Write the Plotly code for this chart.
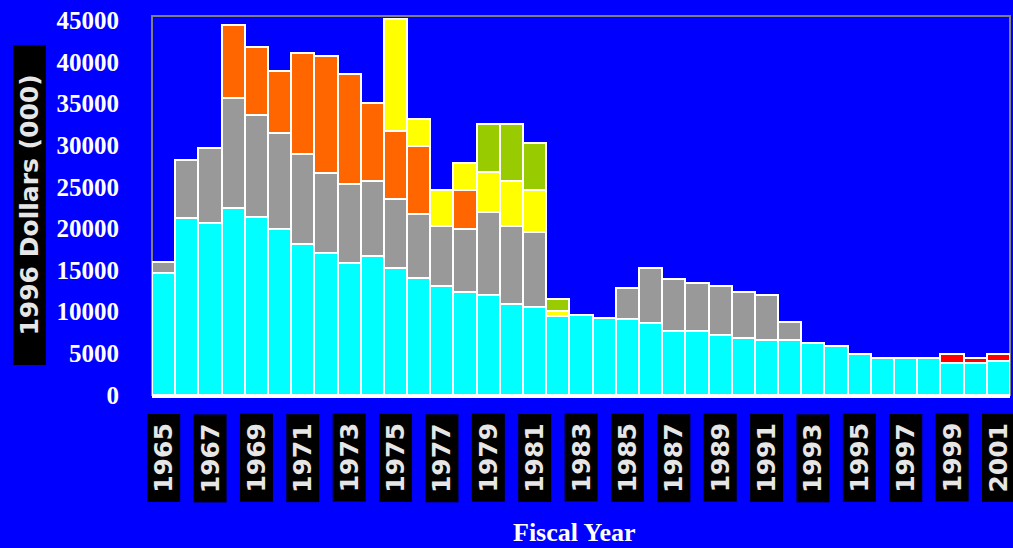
import plotly.graph_objects as go

years = list(range(1965, 2002))
cyan_vals = [14.6, 21.3, 20.6, 22.4, 21.4, 19.9, 18.1, 17.0, 15.9, 16.7, 15.2, 14.1, 13.1, 12.4,
             12.0, 10.9, 10.6, 9.5, 9.6, 9.2, 9.1, 8.7, 7.7, 7.7, 7.2, 6.8, 6.6, 6.6, 6.3, 5.9,
             4.9, 4.5, 4.5, 4.5, 3.8, 3.8, 4.1]
gray_vals = [1.4, 6.9, 9.0, 13.3, 12.2, 11.5, 10.8, 9.7, 9.4, 9.0, 8.3, 7.6, 7.2, 7.5,
             10.0, 9.4, 9.0, 0, 0, 0, 3.7, 6.6, 6.2, 5.8, 5.9, 5.6, 5.4, 2.2, 0, 0,
             0, 0, 0, 0, 0, 0, 0]
red_vals = [0] * 34 + [1.1, 0.7, 0.8]
orange_vals = [0, 0, 0, 8.7, 8.2, 7.5, 12.2, 14.0, 13.2, 9.3, 8.2, 8.2, 0, 4.7,
               0, 0, 0, 0, 0, 0, 0, 0, 0, 0, 0, 0, 0, 0, 0, 0,
               0, 0, 0, 0, 0, 0, 0]
yellow_vals = [0, 0, 0, 0, 0, 0, 0, 0, 0, 0, 13.4, 3.2, 4.3, 3.2,
               4.8, 5.4, 5.0, 0.6, 0, 0, 0, 0, 0, 0, 0, 0, 0, 0, 0, 0,
               0, 0, 0, 0, 0, 0, 0]
green_vals = [0] * 14 + [5.7, 6.8, 5.7, 1.4] + [0] * 19

series = [
    ("Cyan", cyan_vals, "#00FFFF"),
    ("Gray", gray_vals, "#999999"),
    ("Red", red_vals, "#FF0000"),
    ("Orange", orange_vals, "#FF6600"),
    ("Yellow", yellow_vals, "#FFFF00"),
    ("Green", green_vals, "#99CC00"),
]

y_ticks = [0, 5000, 10000, 15000, 20000, 25000, 30000, 35000, 40000, 45000]
x_labels = [y for y in years if y % 2 == 1]

fig = go.Figure()
for name, vals, color in series:
    fig.add_trace(go.Bar(
        x=years, y=[v * 1000 for v in vals], name=name,
        marker=dict(color=color, line=dict(color="white", width=2)),
        showlegend=False,
    ))

annotations = []
for yr in x_labels:
    annotations.append(dict(
        x=yr, xref="x", y=-0.166, yref="paper", text=str(yr), showarrow=False,
        textangle=-90, bgcolor="black", width=85, height=30,
        font=dict(family="DejaVu Sans", size=25, color="#e6e6e6", weight="bold"),
        xanchor="center", yanchor="middle",
    ))
annotations.append(dict(
    x=-0.1434, xref="paper", y=0.5026, yref="paper", text="1996 Dollars (000)",
    showarrow=False, textangle=-90, bgcolor="black", width=317, height=30,
    font=dict(family="DejaVu Sans", size=25, color="#e6e6e6", weight="bold"),
    xanchor="center", yanchor="middle",
))
annotations.append(dict(
    x=0.493, xref="paper", y=-0.364, yref="paper", text="Fiscal Year", showarrow=False,
    font=dict(family="Liberation Serif", size=26, color="white", weight="bold"),
    xanchor="center", yanchor="middle",
))

fig.update_layout(
    barmode="stack", bargap=0,
    width=1013, height=548,
    margin=dict(l=152, r=3, t=16, b=153),
    paper_bgcolor="#0000FF", plot_bgcolor="#0000FF",
    annotations=annotations,
    shapes=[dict(type="rect", xref="paper", yref="paper", x0=0, x1=1, y0=0, y1=1,
                 line=dict(color="#808080", width=2), layer="below")],
)
fig.update_xaxes(range=[1964.5, 2001.5], showticklabels=False, showgrid=False,
                 zeroline=False, showline=True, linecolor="white", linewidth=3, ticks="")
fig.update_yaxes(range=[0, 45500], tickvals=y_ticks, ticktext=[str(v) for v in y_ticks],
                 showgrid=False, zeroline=False, ticks="", ticklabelstandoff=32,
                 tickfont=dict(family="Liberation Serif", size=25, color="white", weight="bold"))

fig.write_html("out.html")
